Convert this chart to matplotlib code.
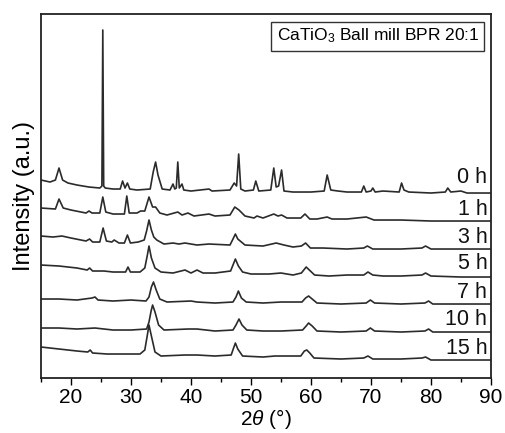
import matplotlib
matplotlib.use("Agg")
import matplotlib.pyplot as plt
from matplotlib.ticker import MultipleLocator

plt.rcParams['font.family'] = ['Liberation Sans', 'DejaVu Sans']
plt.rcParams['mathtext.fontset'] = 'custom'
plt.rcParams['mathtext.rm'] = 'Liberation Sans'
plt.rcParams['mathtext.it'] = 'Liberation Sans:italic'

# 2theta / intensity points (stacked, offsets included)
x_0h = [15, 16.5, 17.4, 18.0, 18.6, 19.5, 21, 23, 24.8, 25.15, 25.3, 25.45, 25.7, 27, 28.2, 28.6, 29.0, 29.4, 29.8,
        31, 33.2, 33.7, 34.1, 34.5, 35.2, 36.5, 37.0, 37.3, 37.55, 37.8, 38.05, 38.5, 38.8, 40, 43, 43.5, 46.5, 47.2,
        47.6, 47.95, 48.3, 49, 50.4, 50.8, 51.3, 53.3, 53.8, 54.2, 54.6, 55.1, 55.5, 57, 60, 62.2, 62.7, 63.3, 64.5,
        66, 68.4, 68.8, 69.2, 70.0, 70.3, 70.7, 72, 74.7, 75.1, 75.5, 76.3, 80, 82.4, 82.8, 83.3, 85, 86, 90]
y_0h = [198, 196, 198, 210, 198, 195, 193, 191, 190, 192, 348, 192, 190, 189, 189, 197, 190, 195, 189,
        188, 189, 206, 216, 203, 189, 188, 194, 189, 190, 216, 190, 194, 188, 187, 189, 187, 188, 195,
        192, 224, 189, 187, 188, 197, 187, 188, 210, 191, 192, 208, 187, 186, 186, 187, 203, 188, 187,
        186, 186, 192, 186, 187, 190, 186, 187, 186, 195, 188, 186, 185, 186, 190, 186, 187, 185, 185]

x_1h = [15, 17.4, 18.0, 18.7, 20, 22.5, 23.0, 23.5, 24.8, 25.3, 25.8, 27, 28.9, 29.3, 29.7, 31, 31.6, 32.3, 33.0,
        33.6, 34.1, 34.8, 36, 37.8, 38.5, 39.5, 40.5, 43, 44, 46.5, 47.3, 48.0, 49, 50.5, 51, 52, 53.8, 54.5, 55.1,
        56, 58.3, 59.0, 59.8, 61, 62.7, 63.5, 66, 69.2, 70.5, 75, 80, 85, 90]
y_1h = [170, 169, 179, 170, 168, 165, 167, 165, 165, 181, 166, 164, 164, 182, 165, 165, 167, 167, 181,
        171, 171, 165, 163, 166, 163, 165, 162, 164, 162, 163, 171, 168, 162, 160, 162, 160, 164, 162, 163,
        160, 160, 164, 159, 159, 161, 159, 159, 161, 158, 158, 157, 157, 157]

x_3h = [15, 17, 18.5, 20, 22.5, 23.1, 23.6, 24.8, 25.35, 25.9, 26.8, 27.2, 28, 28.9, 29.4, 29.9, 31.2, 32.2, 32.6,
        33.0, 33.4, 33.8, 34.3, 35.5, 37, 38, 39, 41, 43, 46.5, 47.0, 47.4, 47.8, 48.2, 49, 52, 54.2, 55.5, 57, 58.4,
        59.1, 59.9, 62, 66, 68.8, 69.4, 70.3, 75, 78.5, 79.1, 80, 85, 90]
y_3h = [142, 141, 142, 140, 137, 139, 136, 136, 150, 137, 136, 138, 135, 135, 143, 135, 136, 138, 147,
        158, 148, 141, 138, 134, 135, 134, 135, 133, 134, 133, 139, 144, 139, 137, 133, 132, 135, 133, 131, 132,
        135, 130, 130, 129, 130, 132, 129, 129, 130, 132, 129, 129, 129]

x_5h = [15, 18, 21, 22.7, 23.1, 23.6, 25.5, 27, 29.1, 29.5, 29.9, 31.5, 32.3, 32.7, 33.0, 33.4, 34.0, 35, 37, 39,
        40, 41, 42, 44, 46.6, 47.0, 47.4, 47.9, 48.6, 50, 53, 55, 57, 58.4, 59.2, 59.9, 60.6, 63, 66, 68.8, 69.5,
        70.3, 72, 75, 78.5, 79.1, 80, 85, 90]
y_5h = [113, 112, 110, 108, 110, 107, 107, 106, 106, 111, 106, 106, 110, 122, 132, 120, 110, 106, 105, 108,
        105, 108, 105, 105, 107, 113, 119, 112, 106, 104, 104, 105, 103, 105, 111, 107, 103, 102, 103, 103, 106,
        103, 102, 102, 103, 105, 102, 101, 101]

x_7h = [15, 18, 21, 23.5, 24, 24.5, 27, 30, 32.5, 33.0, 33.4, 33.75, 34.2, 34.8, 36, 40, 41, 44, 47, 47.5, 47.9,
        48.4, 49.2, 52, 55, 58.5, 59.1, 59.6, 60.2, 61, 65, 69.2, 69.9, 70.6, 75, 79, 79.6, 80.3, 85, 90]
y_7h = [79, 79, 78, 80, 81, 78, 77, 78, 77, 81, 91, 96, 88, 79, 76, 77, 76, 75, 76, 81, 87,
        80, 76, 75, 76, 76, 80, 82, 79, 75, 74, 75, 78, 75, 74, 75, 77, 74, 74, 74]

x_10h = [15, 18, 21, 24, 27, 30, 32.6, 33.0, 33.35, 33.6, 34.0, 34.6, 35.5, 39.5, 41, 44, 47, 47.5, 48.0, 48.5,
         49.3, 52, 55, 58.6, 59.2, 59.6, 60.2, 61, 65, 69.2, 69.9, 70.6, 75, 79, 79.6, 80.3, 85, 90]
y_10h = [50, 50, 49, 50, 48, 48, 49, 56, 67, 73, 66, 53, 48, 49, 49, 47, 48, 53, 59, 53,
         48, 47, 47, 48, 52, 55, 52, 47, 46, 47, 50, 47, 46, 47, 49, 46, 46, 46]

x_15h = [15, 18, 21, 22.8, 23.2, 23.6, 26, 29, 31.5, 32.3, 32.7, 33.0, 33.4, 34.0, 35, 39, 41, 44, 46.7, 47.1,
         47.4, 47.8, 48.6, 52, 54, 58.3, 58.9, 59.3, 59.8, 60.5, 65, 68.8, 69.5, 70.3, 75, 78.5, 79.1, 80, 85, 90]
y_15h = [31, 29, 27, 26, 28, 25, 24, 24, 24, 28, 42, 53, 42, 26, 22, 23, 23, 22, 23, 30,
         35, 29, 22, 21, 22, 22, 27, 28, 25, 20, 19, 20, 22, 19, 19, 20, 21, 18, 18, 18]

labels = ['0 h', '1 h', '3 h', '5 h', '7 h', '10 h', '15 h']
label_y = [201, 169, 141, 115, 86, 59, 30]

fig = plt.figure(figsize=(5.05, 4.33), dpi=100)
ax = fig.add_axes([0.0812, 0.127, 0.891, 0.8406])

curves = [(x_0h, y_0h), (x_1h, y_1h), (x_3h, y_3h), (x_5h, y_5h),
          (x_7h, y_7h), (x_10h, y_10h), (x_15h, y_15h)]
for (xs, ys), lab, ly in zip(curves, labels, label_y):
    ax.plot(xs, ys, color='#2b2b2b', lw=1.2)
    ax.text(89.4, ly, lab, ha='right', va='center', fontsize=15.5, color='#111111')

ax.set_xlim(15, 90)
ax.set_ylim(0, 364)
ax.xaxis.set_major_locator(MultipleLocator(10))
ax.xaxis.set_minor_locator(MultipleLocator(5))
ax.tick_params(axis='x', which='major', direction='out', length=5, width=1.0, labelsize=15, pad=2)
ax.tick_params(axis='x', which='minor', direction='out', length=3, width=1.0)
ax.set_yticks([])
for sp in ax.spines.values():
    sp.set_linewidth(1.3)
    sp.set_color('#222222')

ax.set_xlabel(r'2$\theta$ (°)', fontsize=15, labelpad=0)
ax.set_ylabel('Intensity (a.u.)', fontsize=17, labelpad=4)

ax.text(0.974, 0.965, r'CaTiO$_3$ Ball mill BPR 20:1', transform=ax.transAxes,
        ha='right', va='top', fontsize=12.5,
        bbox=dict(boxstyle='square,pad=0.3', fc='white', ec='#333333', lw=1.0))

fig.savefig('out.png', dpi=100)
